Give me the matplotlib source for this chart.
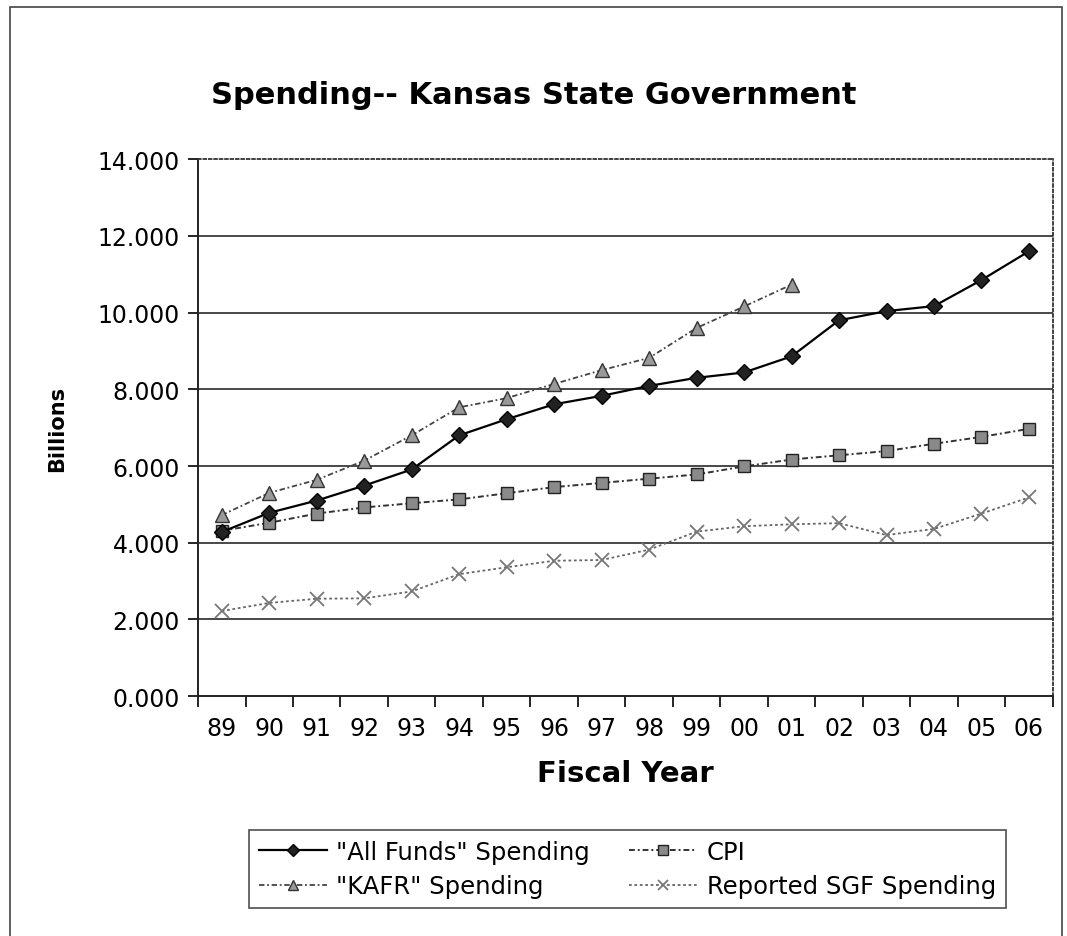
import matplotlib
matplotlib.use("Agg")
import matplotlib.pyplot as plt
from matplotlib.patches import Rectangle

# fiscal years and spending series (billions)
years = ["89", "90", "91", "92", "93", "94", "95", "96", "97", "98",
         "99", "00", "01", "02", "03", "04", "05", "06"]
all_funds = [4.28, 4.78, 5.10, 5.49, 5.91, 6.80, 7.22, 7.61, 7.83, 8.09,
             8.30, 8.44, 8.86, 9.80, 10.04, 10.17, 10.85, 11.60]
kafr = [4.72, 5.30, 5.64, 6.14, 6.80, 7.53, 7.77, 8.14, 8.50, 8.82,
        9.60, 10.16, 10.73]
cpi = [4.31, 4.52, 4.76, 4.92, 5.03, 5.13, 5.29, 5.45, 5.56, 5.67,
       5.78, 5.99, 6.17, 6.28, 6.39, 6.58, 6.76, 6.97]
sgf = [2.22, 2.43, 2.54, 2.55, 2.73, 3.18, 3.36, 3.53, 3.55, 3.82,
       4.29, 4.43, 4.48, 4.51, 4.20, 4.36, 4.76, 5.18]
yticks = [0, 2, 4, 6, 8, 10, 12, 14]

fig = plt.figure(figsize=(10.67, 9.37), dpi=100)
ax = fig.add_axes([0.1856, 0.256, 0.801, 0.573])

x = list(range(len(years)))

ax.plot(x, all_funds, color="black", linestyle="-", linewidth=1.6,
        marker="D", markersize=8, markerfacecolor="#222222",
        markeredgecolor="black", label='"All Funds" Spending', zorder=5)
ax.plot(x[:len(kafr)], kafr, color="#444444", linestyle=(0, (3, 1.5, 1, 1.5)),
        linewidth=1.3, marker="^", markersize=10, markerfacecolor="#999999",
        markeredgecolor="#333333", label='"KAFR" Spending', zorder=4)
ax.plot(x, cpi, color="#333333", linestyle=(0, (3, 1.5, 1, 1.5)), linewidth=1.4,
        marker="s", markersize=9, markerfacecolor="#8a8a8a",
        markeredgecolor="#222222", label="CPI", zorder=4)
ax.plot(x, sgf, color="#666666", linestyle=(0, (1.5, 1.5)), linewidth=1.3,
        marker="x", markersize=10, markeredgewidth=1.3,
        markeredgecolor="#777777", label="Reported SGF Spending", zorder=3)

ax.set_xlim(-0.5, len(years) - 0.5)
ax.set_ylim(0, 14)

# y axis with gridlines at every 2 billion
ax.set_yticks(yticks)
ax.set_yticklabels(["%.3f" % v for v in yticks], fontsize=17)
for v in yticks[1:-1]:
    ax.axhline(v, color="#3a3a3a", linewidth=1.3, zorder=1)

# category ticks sit between the years
ax.set_xticks(x)
ax.set_xticklabels(years, fontsize=17)
ax.set_xticks([i - 0.5 for i in range(len(years) + 1)], minor=True)
ax.tick_params(axis="x", which="major", length=0, pad=14)
ax.tick_params(axis="x", which="minor", length=8, width=1.2, direction="out")
ax.tick_params(axis="y", length=7, width=1.2, direction="out", pad=6)

for side in ["top", "right"]:
    ax.spines[side].set_linestyle((0, (1.5, 1.5)))
    ax.spines[side].set_linewidth(1.3)
    ax.spines[side].set_color("#333333")
for side in ["left", "bottom"]:
    ax.spines[side].set_linewidth(1.4)
    ax.spines[side].set_color("#222222")

ax.set_ylabel("Billions", fontsize=15, fontweight="bold", labelpad=22)
ax.set_xlabel("Fiscal Year", fontsize=21, fontweight="bold", labelpad=14)

fig.text(0.5, 0.898, "Spending-- Kansas State Government", ha="center",
         va="center", fontsize=22, fontweight="bold")

leg = fig.legend(loc="center", bbox_to_anchor=(0.588, 0.0715), ncol=2,
                 fontsize=17.5, frameon=True, fancybox=False, edgecolor="#222222",
                 handlelength=2.8, columnspacing=1.6, labelspacing=0.45,
                 borderpad=0.4, handletextpad=0.4, markerscale=0.75)
leg.get_frame().set_linewidth(1.2)

# outer chart border
fig.patches.append(Rectangle((0.009, -0.02), 0.986, 1.011, transform=fig.transFigure,
                             fill=False, edgecolor="#444444", linewidth=1.2))

fig.savefig("out.png", dpi=100)
